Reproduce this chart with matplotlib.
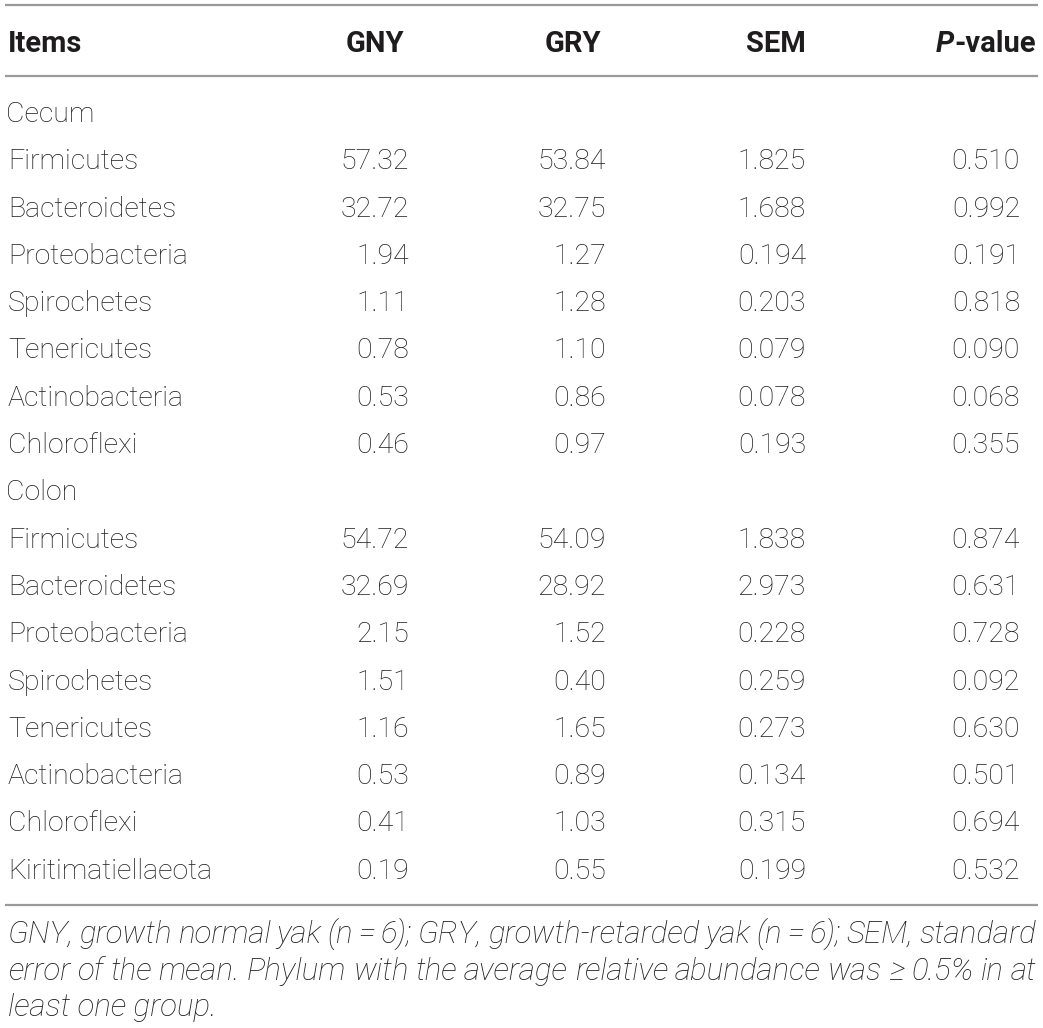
import matplotlib
matplotlib.use("Agg")
import matplotlib.pyplot as plt

# Table content
columns = ["Items", "GNY", "GRY", "SEM", "P-value"]

cecum_items = ["Firmicutes", "Bacteroidetes", "Proteobacteria", "Spirochetes",
               "Tenericutes", "Actinobacteria", "Chloroflexi"]
cecum_gny = ["57.32", "32.72", "1.94", "1.11", "0.78", "0.53", "0.46"]
cecum_gry = ["53.84", "32.75", "1.27", "1.28", "1.10", "0.86", "0.97"]
cecum_sem = ["1.825", "1.688", "0.194", "0.203", "0.079", "0.078", "0.193"]
cecum_p = ["0.510", "0.992", "0.191", "0.818", "0.090", "0.068", "0.355"]

colon_items = ["Firmicutes", "Bacteroidetes", "Proteobacteria", "Spirochetes",
               "Tenericutes", "Actinobacteria", "Chloroflexi", "Kiritimatiellaeota"]
colon_gny = ["54.72", "32.69", "2.15", "1.51", "1.16", "0.53", "0.41", "0.19"]
colon_gry = ["54.09", "28.92", "1.52", "0.40", "1.65", "0.89", "1.03", "0.55"]
colon_sem = ["1.838", "2.973", "0.228", "0.259", "0.273", "0.134", "0.315", "0.199"]
colon_p = ["0.874", "0.631", "0.728", "0.092", "0.630", "0.501", "0.694", "0.532"]

footnote = [
    "GNY, growth normal yak (n = 6); GRY, growth-retarded yak (n = 6); SEM, standard",
    "error of the mean. Phylum with the average relative abundance was \u2265 0.5% in at",
    "least one group.",
]

W, H = 1043, 1028
fig = plt.figure(figsize=(W / 100, H / 100), dpi=100)
ax = fig.add_axes([0, 0, 1, 1])
ax.set_xlim(0, W)
ax.set_ylim(H, 0)
ax.axis("off")

plt.rcParams["font.family"] = ["Roboto", "DejaVu Sans"]
txt = "#1e1c1d"
rule = "#9a9a9a"
fs = 20.5
body = dict(fontsize=fs, color=txt, va="baseline", fontweight="light")
head = dict(fontsize=21, color=txt, va="baseline", fontweight="bold")
foot = dict(fontsize=22.5, color=txt, va="baseline", fontweight="light", style="italic")

# rules
for y in [5, 76, 905]:
    ax.plot([5, 1038], [y, y], color=rule, lw=1.6, solid_capstyle="butt")

# header
hy = 52
ax.text(8, hy, "Items", **head)
ax.text(404, hy, "GNY", ha="right", **head)
ax.text(601, hy, "GRY", ha="right", **head)
ax.text(806, hy, "SEM", ha="right", **head)
t_val = ax.text(1036, hy, "-value", ha="right", **head)
fig.canvas.draw()
r = fig.canvas.get_renderer()
inv = ax.transData.inverted()
bb = t_val.get_window_extent(r)
x_left = inv.transform((bb.x0, bb.y0))[0]
ax.text(x_left, hy, "P", ha="right", style="italic", **head)

# body rows
step = 47.3
y = 122
col_right = [409, 606, 806, 1020]


def draw_section(title, items, gny, gry, sem, p, y):
    ax.text(6, y, title, **body)
    y += step
    for i in range(len(items)):
        ax.text(8, y, items[i], **body)
        for xr, v in zip(col_right, [gny[i], gry[i], sem[i], p[i]]):
            ax.text(xr, y, v, ha="right", **body)
        y += step
    return y


y = draw_section("Cecum", cecum_items, cecum_gny, cecum_gry, cecum_sem, cecum_p, y)
y = draw_section("Colon", colon_items, colon_gny, colon_gry, colon_sem, colon_p, y)

# footnote, justified except the last line
foot_y = [943, 980, 1016]
x0, x1 = 8, 1036
for k, line in enumerate(footnote):
    words = line.split(" ")
    if k == len(footnote) - 1:
        ax.text(x0, foot_y[k], line, **foot)
        continue
    arts = [ax.text(0, foot_y[k], w, **foot) for w in words]
    fig.canvas.draw()
    widths = []
    for a in arts:
        e = a.get_window_extent(r)
        widths.append(inv.transform((e.x1, 0))[0] - inv.transform((e.x0, 0))[0])
    gap = (x1 - x0 - sum(widths)) / (len(words) - 1)
    x = x0
    for a, w in zip(arts, widths):
        a.set_x(x)
        x += w + gap

fig.savefig("out.png", dpi=100)
